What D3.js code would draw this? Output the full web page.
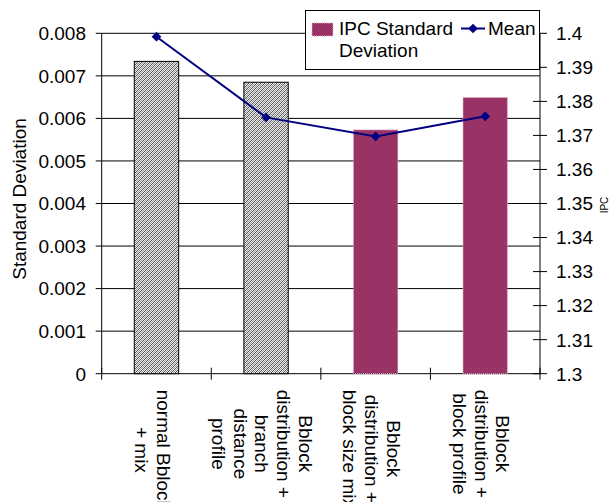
<!DOCTYPE html>
<html>
<head>
<meta charset="utf-8">
<script src="https://cdn.jsdelivr.net/npm/d3@7"></script>
<style>
  html, body { margin: 0; padding: 0; background: #fff; }
  svg { display: block; font-family: Arial, "Liberation Sans", sans-serif; }
</style>
</head>
<body>
<svg id="chart" width="615" height="502"></svg>
<script>
// Configurations compared
const categories = [
  ["normal Bblock", "+ mix"],
  ["Bblock", "distribution +", "branch", "distance", "profile"],
  ["Bblock", "distribution +", "block size mix"],
  ["Bblock", "distribution +", "block profile"]
];
// IPC standard deviation per configuration (bars, left axis)
const stdDev = [0.00734, 0.00685, 0.00573, 0.00649];
// Mean IPC per configuration (line, right axis)
const meanIPC = [1.399, 1.3753, 1.3697, 1.3756];
// Bar style: hatched for the first two, solid for the rest
const hatched = [true, true, false, false];
const leftTicks = [0, 0.001, 0.002, 0.003, 0.004, 0.005, 0.006, 0.007, 0.008];
const rightTicks = [1.3, 1.31, 1.32, 1.33, 1.34, 1.35, 1.36, 1.37, 1.38, 1.39, 1.4];

const svg = d3.select("#chart");
const plot = { left: 101.7, right: 540, top: 33.3, bottom: 373.7 };
const fontSize = 19;

const x = d3.scaleBand().domain(d3.range(categories.length))
  .range([plot.left, plot.right]).paddingInner(0).paddingOuter(0);
const yL = d3.scaleLinear().domain([0, 0.008]).range([plot.bottom, plot.top]);
const yR = d3.scaleLinear().domain([1.3, 1.4]).range([plot.bottom, plot.top]);

// Fine stipple fill
const defs = svg.append("defs");
const pat = defs.append("pattern").attr("id", "hatch")
  .attr("patternUnits", "userSpaceOnUse").attr("width", 4).attr("height", 4);
pat.append("rect").attr("width", 4).attr("height", 4).attr("fill", "#e8e8e8");
[[0,3],[1,2],[2,1],[3,0]].forEach(([i, j]) =>
  pat.append("rect").attr("x", i).attr("y", j).attr("width", 1).attr("height", 1).attr("fill", "#555"));
[[0,1],[1,0],[2,3],[3,2]].forEach(([i, j]) =>
  pat.append("rect").attr("x", i).attr("y", j).attr("width", 1).attr("height", 1).attr("fill", "#9a9a9a"));

// Gridlines
svg.append("g").selectAll("line").data(leftTicks).join("line")
  .attr("x1", plot.left).attr("x2", plot.right)
  .attr("y1", d => yL(d)).attr("y2", d => yL(d))
  .attr("stroke", "#000").attr("stroke-width", 1);

// Bars
const barW = x.bandwidth() * 0.405;
svg.append("g").selectAll("rect").data(stdDev).join("rect")
  .attr("x", (d, i) => x(i) + x.bandwidth() / 2 - barW / 2)
  .attr("y", d => yL(d))
  .attr("width", barW)
  .attr("height", d => yL(0) - yL(d))
  .attr("fill", (d, i) => hatched[i] ? "url(#hatch)" : "#993366")
  .attr("stroke", (d, i) => hatched[i] ? "#000" : "#e3b3cf")
  .attr("stroke-width", 1)
  .attr("stroke-dasharray", (d, i) => hatched[i] ? null : "1,1");

// Left axis
const axL = svg.append("g");
axL.append("line").attr("x1", plot.left).attr("x2", plot.left)
  .attr("y1", plot.top).attr("y2", plot.bottom).attr("stroke", "#000");
axL.selectAll("line.t").data(leftTicks).join("line").attr("class", "t")
  .attr("x1", plot.left - 6).attr("x2", plot.left)
  .attr("y1", d => yL(d)).attr("y2", d => yL(d)).attr("stroke", "#000");
axL.selectAll("text").data(leftTicks).join("text")
  .attr("x", 86).attr("y", d => yL(d)).attr("dy", "0.36em")
  .attr("text-anchor", "end").attr("font-size", fontSize)
  .text(d => d === 0 ? "0" : d3.format(".3f")(d));

// Right axis
const axR = svg.append("g");
axR.append("line").attr("x1", plot.right).attr("x2", plot.right)
  .attr("y1", plot.top).attr("y2", plot.bottom).attr("stroke", "#000");
axR.selectAll("line.t").data(rightTicks).join("line").attr("class", "t")
  .attr("x1", plot.right - 7).attr("x2", plot.right + 7)
  .attr("y1", d => yR(d)).attr("y2", d => yR(d)).attr("stroke", "#000");
axR.selectAll("text").data(rightTicks).join("text")
  .attr("x", 556).attr("y", d => yR(d)).attr("dy", "0.36em")
  .attr("text-anchor", "start").attr("font-size", fontSize)
  .text(d => d3.format("")(+d.toFixed(2)));

// Category ticks on the bottom axis
const bounds = d3.range(categories.length + 1).map(i => plot.left + i * x.bandwidth());
svg.append("g").selectAll("line").data(bounds).join("line")
  .attr("x1", d => d).attr("x2", d => d)
  .attr("y1", plot.bottom - 6).attr("y2", plot.bottom + 6)
  .attr("stroke", "#000");

// Category labels, rotated to read downward
const lineGap = 21.7;
const labels = svg.append("g").attr("font-size", fontSize);
categories.forEach((lines, i) => {
  const cx = x(i) + x.bandwidth() / 2 - 4;
  const g = labels.append("g");
  const t = g.append("text").attr("text-anchor", "middle");
  lines.forEach((s, k) => {
    t.append("tspan").attr("x", 0).attr("y", (k - (lines.length - 1) / 2) * lineGap)
      .attr("dy", "0.35em").text(s);
  });
  // longest line starts just below the axis
  let maxW = 0;
  t.selectAll("tspan").each(function () { maxW = Math.max(maxW, this.getComputedTextLength()); });
  const cy = plot.bottom + 16 + maxW / 2;
  g.attr("transform", `translate(${cx},${cy}) rotate(90)`);
});

// Mean IPC line
const line = d3.line().x((d, i) => x(i) + x.bandwidth() / 2).y(d => yR(d));
svg.append("path").datum(meanIPC).attr("d", line)
  .attr("fill", "none").attr("stroke", "#000080").attr("stroke-width", 2);
const diamond = d3.symbol().type(d3.symbolDiamond2).size(60);
svg.append("g").selectAll("path").data(meanIPC).join("path")
  .attr("transform", (d, i) => `translate(${x(i) + x.bandwidth() / 2},${yR(d)})`)
  .attr("d", diamond).attr("fill", "#000080");

// Axis titles
svg.append("text").attr("transform", "translate(26,199) rotate(-90)")
  .attr("text-anchor", "middle").attr("font-size", fontSize).text("Standard Deviation");
svg.append("text").attr("transform", "translate(608,205) rotate(-90)")
  .attr("text-anchor", "middle").attr("font-size", 10).text("IPC");

// Legend
const lg = svg.append("g");
lg.append("rect").attr("x", 305.5).attr("y", 10.5).attr("width", 234).attr("height", 59)
  .attr("fill", "#fff").attr("stroke", "#000");
lg.append("rect").attr("x", 312).attr("y", 23).attr("width", 21).attr("height", 13)
  .attr("fill", "#993366").attr("stroke", "#e3b3cf").attr("stroke-dasharray", "1,1");
const lt = lg.append("text").attr("font-size", fontSize);
lt.append("tspan").attr("x", 339).attr("y", 35).text("IPC Standard");
lt.append("tspan").attr("x", 339).attr("y", 57).text("Deviation");
lg.append("line").attr("x1", 461).attr("x2", 485).attr("y1", 28.5).attr("y2", 28.5)
  .attr("stroke", "#000080").attr("stroke-width", 2);
lg.append("path").attr("transform", "translate(473,28.5)").attr("d", diamond).attr("fill", "#000080");
lg.append("text").attr("x", 488).attr("y", 35).attr("font-size", fontSize).text("Mean");
</script>
</body>
</html>
